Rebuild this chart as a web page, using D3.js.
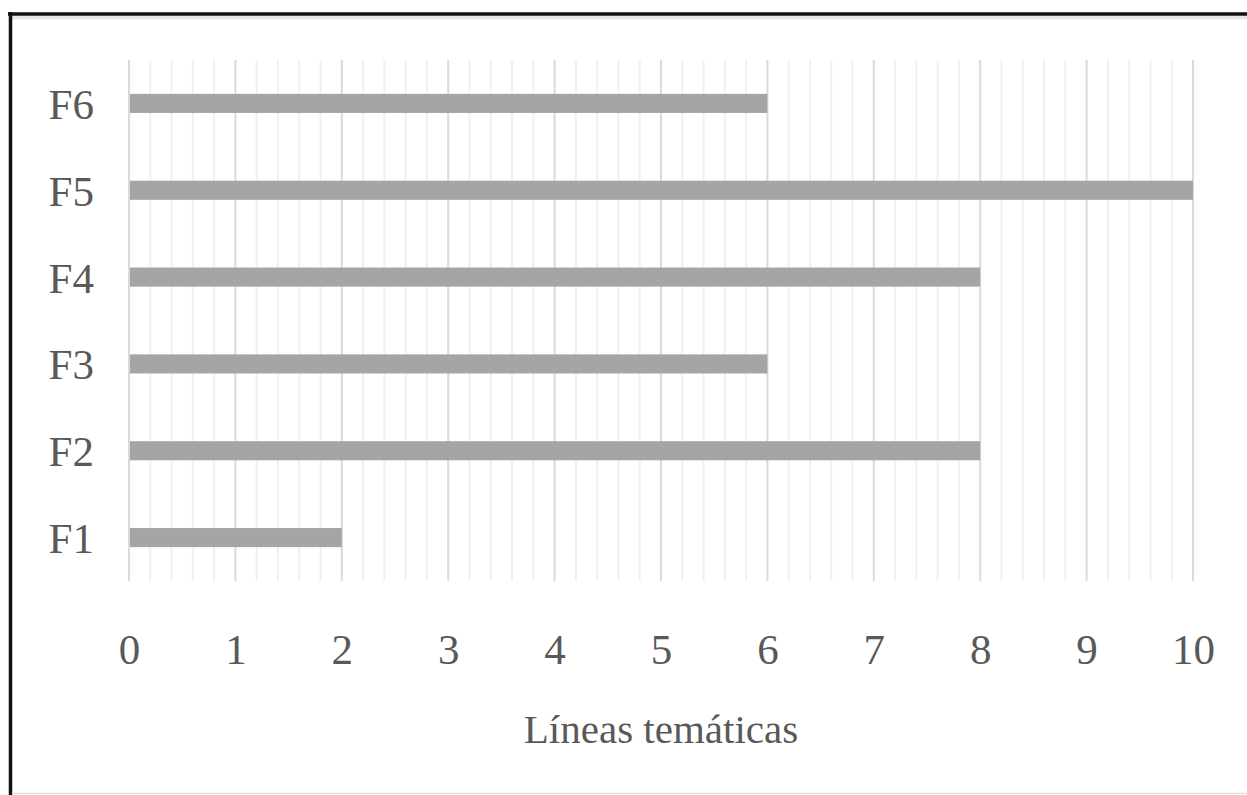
<!DOCTYPE html>
<html>
<head>
<meta charset="utf-8">
<script src="https://cdn.jsdelivr.net/npm/d3@7"></script>
<style>
  html, body { margin: 0; padding: 0; background: #fff; }
  svg { display: block; }
  text { font-family: "Liberation Serif", "Times New Roman", serif; fill: #595959; }
</style>
</head>
<body>
<svg id="chart" width="1247" height="795"></svg>
<script>
// Thematic lines per factor
const categories = ["F1", "F2", "F3", "F4", "F5", "F6"];
const values = [2, 8, 6, 8, 10, 6];
const xTicks = [0, 1, 2, 3, 4, 5, 6, 7, 8, 9, 10];
const xTitle = "Líneas temáticas";

const svg = d3.select("#chart");
const W = 1247, H = 795;
const plot = { left: 129, right: 1193, top: 60, bottom: 581 };

// Frame: heavy top and left rules, faint bottom rule
svg.append("line").attr("x1", 10).attr("x2", W).attr("y1", 17.5).attr("y2", 17.5)
  .attr("stroke", "#e6e6e6").attr("stroke-width", 4);
svg.append("line").attr("x1", 8).attr("x2", W).attr("y1", 14).attr("y2", 14)
  .attr("stroke", "#111").attr("stroke-width", 3.5);
svg.append("line").attr("x1", 10.5).attr("x2", 10.5).attr("y1", 12).attr("y2", H)
  .attr("stroke", "#111").attr("stroke-width", 3.5);
svg.append("line").attr("x1", 12).attr("x2", W).attr("y1", 793.5).attr("y2", 793.5)
  .attr("stroke", "#e3e3e3").attr("stroke-width", 1.5);

const x = d3.scaleLinear().domain([0, 10]).range([plot.left, plot.right]);
const y = d3.scaleBand()
  .domain(categories.slice().reverse())
  .range([plot.top, plot.bottom])
  .paddingInner(0.78)
  .paddingOuter(0.39);

// Minor gridlines every 0.2
const minor = d3.range(0, 10.001, 0.2).filter(v => Math.abs(v - Math.round(v)) > 1e-6);
svg.append("g").selectAll("line").data(minor).join("line")
  .attr("x1", d => x(d)).attr("x2", d => x(d))
  .attr("y1", plot.top).attr("y2", plot.bottom)
  .attr("stroke", "#f0f0f0").attr("stroke-width", 2);

// Major gridlines at each integer
svg.append("g").selectAll("line").data(xTicks).join("line")
  .attr("x1", d => x(d)).attr("x2", d => x(d))
  .attr("y1", plot.top).attr("y2", plot.bottom)
  .attr("stroke", "#dadada").attr("stroke-width", 2);

// Bars
svg.append("g").selectAll("rect").data(categories).join("rect")
  .attr("x", x(0) + 1)
  .attr("y", d => y(d))
  .attr("width", (d, i) => x(values[i]) - x(0) - 1)
  .attr("height", y.bandwidth())
  .attr("fill", "#a5a5a5");

// X axis labels
const xAxis = d3.axisBottom(x).tickValues(xTicks).tickSize(0).tickPadding(0)
  .tickFormat(d3.format("d"));
const gx = svg.append("g").attr("transform", `translate(0,${plot.bottom})`).call(xAxis);
gx.select(".domain").remove();
gx.selectAll("text")
  .attr("y", 83).attr("dy", null)
  .style("font-family", '"Liberation Serif", serif')
  .style("font-size", "43px")
  .attr("fill", "#595959");

// Y axis labels
const yAxis = d3.axisLeft(y).tickSize(0).tickPadding(0);
const gy = svg.append("g").attr("transform", `translate(${plot.left},0)`).call(yAxis);
gy.select(".domain").remove();
gy.selectAll("text")
  .attr("x", -35).attr("dy", "0.36em")
  .style("font-family", '"Liberation Serif", serif')
  .style("font-size", "43px")
  .attr("fill", "#595959");

// Axis title
svg.append("text")
  .attr("x", (plot.left + plot.right) / 2)
  .attr("y", 743)
  .attr("text-anchor", "middle")
  .style("font-size", "41px")
  .text(xTitle);
</script>
</body>
</html>
